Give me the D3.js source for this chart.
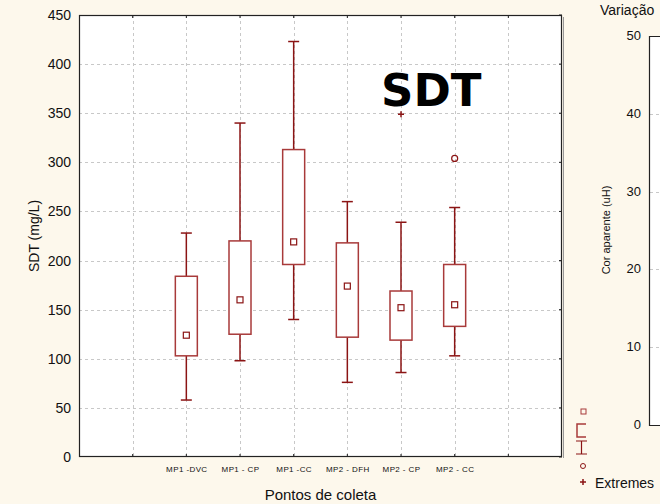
<!DOCTYPE html>
<html>
<head>
<meta charset="utf-8">
<script src="https://cdn.jsdelivr.net/npm/d3@7"></script>
<style>
  body { margin: 0; background: #fdf8ec; }
  svg { display: block; font-family: "Liberation Sans", Arial, sans-serif; }
</style>
</head>
<body>
<script>
var width = 660, height = 504;

// categories (blank slots at each end, like the original)
var pontos = ["MP1 -DVC", "MP1 - CP", "MP1 -CC", "MP2 - DFH", "MP2 - CP", "MP2 - CC"];
var whiskLow  = [58, 98, 140, 76, 86, 103];
var boxLow    = [103, 125, 196, 122, 119, 133];
var medians   = [124, 160, 219, 174, 152, 155];
var boxHigh   = [184, 220, 313, 218, 169, 196];
var whiskHigh = [228, 340, 423, 260, 239, 254];
var outliers  = [{cat: "MP2 - CC", v: 304}];
var extremes  = [{cat: "MP2 - CP", v: 349}];
var yTicks = [0, 50, 100, 150, 200, 250, 300, 350, 400, 450];
var rightTicks = [0, 10, 20, 30, 40, 50];

var red = "#8b1414";
var boxRed = "#a83a3a";

var svg = d3.select("body").append("svg")
    .attr("width", width)
    .attr("height", height);

svg.append("rect").attr("width", width).attr("height", height).attr("fill", "#fdf8ec");

var pLeft = 79, pRight = 562, pTop = 15, pBottom = 457;

var slots = ["_a"].concat(pontos).concat(["_b"]);
var x = d3.scalePoint().domain(slots).range([pLeft, pRight]).padding(1);
var y = d3.scaleLinear().domain([0, 450]).range([pBottom, pTop]);

svg.append("rect")
    .attr("x", pLeft).attr("y", pTop)
    .attr("width", pRight - pLeft).attr("height", pBottom - pTop)
    .attr("fill", "white");

// grid
var g = svg.append("g");
g.selectAll(".hg").data(yTicks.slice(1, -1)).enter().append("line")
    .attr("x1", pLeft).attr("x2", pRight)
    .attr("y1", d => Math.round(y(d)) + 0.5).attr("y2", d => Math.round(y(d)) + 0.5)
    .attr("stroke", "#c8c8c8").attr("stroke-dasharray", "3,3");
g.selectAll(".vg").data(slots).enter().append("line")
    .attr("x1", d => Math.round(x(d)) + 0.5).attr("x2", d => Math.round(x(d)) + 0.5)
    .attr("y1", pTop).attr("y2", pBottom)
    .attr("stroke", "#c8c8c8").attr("stroke-dasharray", "3,3");

// axes
var yAxis = svg.append("g")
    .attr("transform", "translate(" + pLeft + ",0)")
    .call(d3.axisLeft(y).tickValues(yTicks).tickSize(0).tickPadding(8));
yAxis.select(".domain").remove();
yAxis.selectAll("text").attr("font-size", 14).attr("fill", "#111");

var xAxis = svg.append("g")
    .attr("transform", "translate(0," + pBottom + ")")
    .call(d3.axisBottom(x).tickSize(0).tickPadding(9).tickFormat(d => d[0] == "_" ? "" : d));
xAxis.select(".domain").remove();
xAxis.selectAll("text").attr("font-size", 8).attr("letter-spacing", 0.4).attr("fill", "#111");

// frame ticks (inside, small)
svg.selectAll(".tt").data(slots).enter().append("line")
    .attr("x1", d => x(d)).attr("x2", d => x(d))
    .attr("y1", pTop).attr("y2", pTop + 3).attr("stroke", "#222");
svg.selectAll(".tb").data(slots).enter().append("line")
    .attr("x1", d => x(d)).attr("x2", d => x(d))
    .attr("y1", pBottom).attr("y2", pBottom - 3).attr("stroke", "#222");
svg.selectAll(".tr").data(yTicks).enter().append("line")
    .attr("x1", pRight).attr("x2", pRight - 3)
    .attr("y1", d => y(d)).attr("y2", d => y(d)).attr("stroke", "#222");

svg.append("rect")
    .attr("x", pLeft + 0.5).attr("y", pTop + 0.5)
    .attr("width", pRight - pLeft - 1).attr("height", pBottom - pTop - 1)
    .attr("fill", "none").attr("stroke", "#222").attr("stroke-width", 1.2);
svg.append("line").attr("x1", pRight + 1.5).attr("x2", pRight + 1.5)
    .attr("y1", pTop + 2).attr("y2", pBottom + 1).attr("stroke", "#999");

// boxes
var bw = 22, cap = 11;
var boxes = svg.append("g").selectAll("g").data(pontos).enter().append("g");
boxes.append("line")
    .attr("x1", d => x(d)).attr("x2", d => x(d))
    .attr("y1", (d, i) => y(whiskHigh[i])).attr("y2", (d, i) => y(boxHigh[i]))
    .attr("stroke", red).attr("stroke-width", 1.5);
boxes.append("line")
    .attr("x1", d => x(d)).attr("x2", d => x(d))
    .attr("y1", (d, i) => y(boxLow[i])).attr("y2", (d, i) => y(whiskLow[i]))
    .attr("stroke", red).attr("stroke-width", 1.5);
boxes.append("line")
    .attr("x1", d => x(d) - cap / 2).attr("x2", d => x(d) + cap / 2)
    .attr("y1", (d, i) => y(whiskHigh[i])).attr("y2", (d, i) => y(whiskHigh[i]))
    .attr("stroke", red).attr("stroke-width", 1.5);
boxes.append("line")
    .attr("x1", d => x(d) - cap / 2).attr("x2", d => x(d) + cap / 2)
    .attr("y1", (d, i) => y(whiskLow[i])).attr("y2", (d, i) => y(whiskLow[i]))
    .attr("stroke", red).attr("stroke-width", 1.5);
boxes.append("rect")
    .attr("x", d => x(d) - bw / 2)
    .attr("y", (d, i) => y(boxHigh[i]))
    .attr("width", bw)
    .attr("height", (d, i) => y(boxLow[i]) - y(boxHigh[i]))
    .attr("fill", "white").attr("stroke", boxRed).attr("stroke-width", 1.5);
boxes.append("rect")
    .attr("x", d => x(d) - 3)
    .attr("y", (d, i) => y(medians[i]) - 3)
    .attr("width", 6).attr("height", 6)
    .attr("fill", "none").attr("stroke", red).attr("stroke-width", 1.2);

svg.selectAll(".out").data(outliers).enter().append("circle")
    .attr("cx", d => x(d.cat)).attr("cy", d => y(d.v)).attr("r", 3)
    .attr("fill", "none").attr("stroke", red).attr("stroke-width", 1.2);
svg.selectAll(".ext").data(extremes).enter().append("path")
    .attr("d", d => "M" + (x(d.cat) - 3) + "," + y(d.v) + "h6M" + x(d.cat) + "," + (y(d.v) - 3) + "v6")
    .attr("stroke", red).attr("stroke-width", 1.5);

// titles
svg.append("text").attr("x", 381).attr("y", 106)
    .attr("font-family", "DejaVu Sans, sans-serif")
    .attr("font-weight", "bold").attr("font-size", 45).attr("fill", "#000")
    .text("SDT");
svg.append("text")
    .attr("transform", "translate(39," + ((pTop + pBottom) / 2) + ") rotate(-90)")
    .attr("text-anchor", "middle").attr("font-size", 14).attr("fill", "#111")
    .text("SDT (mg/L)");
svg.append("text").attr("x", (pLeft + pRight) / 2).attr("y", 500)
    .attr("text-anchor", "middle").attr("font-size", 15).attr("fill", "#111")
    .text("Pontos de coleta");

// pieces of the neighbouring chart on the right
var y2 = d3.scaleLinear().domain([0, 50]).range([425, 36]);
svg.append("rect").attr("x", 649).attr("y", 36).attr("width", 20).attr("height", 389).attr("fill", "white");
svg.selectAll(".g2").data(rightTicks.slice(1, -1)).enter().append("line")
    .attr("x1", 650).attr("x2", 660)
    .attr("y1", d => Math.round(y2(d)) + 0.5).attr("y2", d => Math.round(y2(d)) + 0.5)
    .attr("stroke", "#c8c8c8").attr("stroke-dasharray", "3,3");
svg.append("path").attr("d", "M660,36.5H649.5V425.5H660")
    .attr("fill", "none").attr("stroke", "#222").attr("stroke-width", 1.2);
svg.selectAll(".t2").data(rightTicks).enter().append("text")
    .attr("x", 641).attr("y", d => y2(d) + 4)
    .attr("text-anchor", "end").attr("font-size", 13).attr("fill", "#111")
    .text(d => d);
svg.append("text").attr("x", 600).attr("y", 15)
    .attr("font-size", 14).attr("fill", "#111").text("Variação");
svg.append("text")
    .attr("transform", "translate(610,230) rotate(-90)")
    .attr("text-anchor", "middle").attr("font-size", 11).attr("fill", "#111")
    .text("Cor aparente (uH)");

// legend
var lg = svg.append("g");
lg.append("rect").attr("x", 581).attr("y", 409).attr("width", 5).attr("height", 5)
    .attr("fill", "none").attr("stroke", boxRed).attr("stroke-width", 1);
lg.append("path").attr("d", "M586,424H577V437H586").attr("fill", "none").attr("stroke", boxRed).attr("stroke-width", 1.5);
lg.append("path").attr("d", "M576,441H587M581.5,441V454M576,454H587").attr("fill", "none").attr("stroke", red).attr("stroke-width", 1.2);
lg.append("circle").attr("cx", 583).attr("cy", 466).attr("r", 2.5).attr("fill", "none").attr("stroke", red).attr("stroke-width", 1);
lg.append("path").attr("d", "M580,482h6M583,479v6").attr("stroke", red).attr("stroke-width", 1.5);
lg.append("text").attr("x", 595).attr("y", 488).attr("font-size", 14).attr("fill", "#111").text("Extremes");

// cut-off text at the left edge (only a sliver shows)
svg.append("text")
    .attr("transform", "translate(-5,440) rotate(-90)")
    .attr("text-anchor", "middle").attr("font-size", 11).attr("fill", "#333")
    .text("Mediana");
</script>
</body>
</html>
